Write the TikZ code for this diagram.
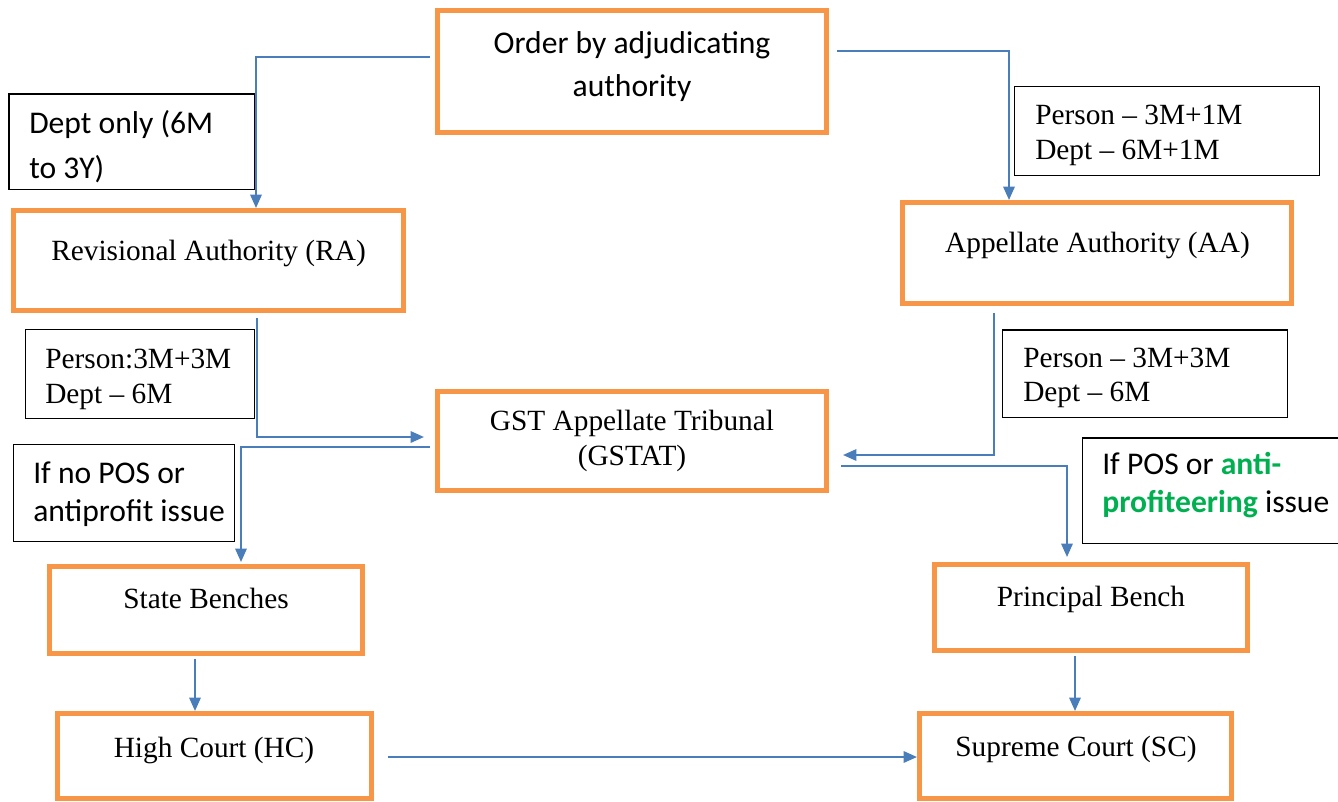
\documentclass[tikz,border=0pt]{standalone}
\usepackage{fontspec}
\setmainfont{Liberation Serif}
\newfontfamily\calibri{Carlito}
\usetikzlibrary{arrows.meta}
\definecolor{boxorange}{HTML}{F79646}
\definecolor{linkblue}{HTML}{4A7EBB}
\definecolor{antigreen}{HTML}{00B050}
\begin{document}
\begin{tikzpicture}[x=0.75pt,y=-0.75pt,
  stage/.style={draw=boxorange,line width=3.75pt,inner sep=0pt},
  note/.style={draw=black,line width=1.1pt,inner sep=0pt},
  serif/.style={inner sep=0pt,font=\fontsize{22}{26.25}\selectfont},
  sans/.style={inner sep=0pt,font=\calibri\fontsize{23.7}{33}\selectfont},
  link/.style={draw=linkblue,line width=1.5pt,-{Triangle[length=10pt,width=8.5pt]}}]
\useasboundingbox (0,0) rectangle (1338,801);

% stages of the appeal chain
\node[stage,minimum width=291.75pt,minimum height=91.5pt]  (ord) at (632,71.5) {};
\node[stage,minimum width=292.5pt,minimum height=75pt]     (ra)  at (208.5,260.5) {};
\node[stage,minimum width=291.75pt,minimum height=75.75pt] (aa)  at (1097,253) {};
\node[stage,minimum width=291.75pt,minimum height=74.25pt] (gst) at (632,441) {};
\node[stage,minimum width=234.75pt,minimum height=65.25pt] (sb)  at (206,610) {};
\node[stage,minimum width=234.75pt,minimum height=64.5pt]  (pb)  at (1091,607.5) {};
\node[stage,minimum width=235.5pt,minimum height=63.75pt]  (hc)  at (214.5,756) {};
\node[stage,minimum width=234pt,minimum height=63.75pt]    (sc)  at (1075.5,756) {};

% time-limit and condition notes
\node[note,minimum width=184.1pt,minimum height=71.6pt] (n1) at (131.5,141.5) {};
\node[note,minimum width=228.4pt,minimum height=66.4pt] (n2) at (1167,131) {};
\node[note,minimum width=171.4pt,minimum height=66.4pt] (n3) at (140,374) {};
\node[note,minimum width=213.4pt,minimum height=65.6pt] (n4) at (1145,373.5) {};
\node[note,minimum width=165.4pt,minimum height=72.4pt] (n5) at (124,493) {};
\node[note,minimum width=199.9pt,minimum height=79.1pt] (n6) at (1216,490.5) {};

% stage titles
\node[sans,anchor=base]  (ordA) at (632,53) {Order by adjudicating};
\node[sans,anchor=base]  (ordB) at (632,96) {authority};
\node[serif,anchor=base] (raT)  at (208.5,260) {Revisional Authority (RA)};
\node[serif,anchor=base] (aaT)  at (1097.5,252) {Appellate Authority (AA)};
\node[serif,anchor=base] (gstA) at (632,430.5) {GST Appellate Tribunal};
\node[serif,anchor=base] (gstB) at (632,465) {(GSTAT)};
\node[serif,anchor=base] (sbT)  at (206,608) {State Benches};
\node[serif,anchor=base] (pbT)  at (1091,606) {Principal Bench};
\node[serif,anchor=base] (hcT)  at (214,757) {High Court (HC)};
\node[serif,anchor=base] (scT)  at (1076,756) {Supreme Court (SC)};

% note texts
\node[sans,anchor=base west]  (n1a) at (29,133) {Dept only (6M};
\node[sans,anchor=base west]  (n1b) at (29,178) {to 3Y)};
\node[serif,anchor=base west] (n2a) at (1035,124) {Person -- 3M+1M};
\node[serif,anchor=base west] (n2b) at (1035,159) {Dept -- 6M+1M};
\node[serif,anchor=base west] (n3a) at (45,368) {Person:3M+3M};
\node[serif,anchor=base west] (n3b) at (45,403) {Dept -- 6M};
\node[serif,anchor=base west] (n4a) at (1023,367) {Person -- 3M+3M};
\node[serif,anchor=base west] (n4b) at (1023,401) {Dept -- 6M};
\node[sans,anchor=base west]  (n5a) at (33,483) {If no POS or};
\node[sans,anchor=base west]  (n5b) at (33,521) {antiprofit issue};
\node[sans,anchor=base west]  (n6a) at (1102,474) {If POS or \textcolor{antigreen}{\bfseries anti-}};
\node[sans,anchor=base west]  (n6b) at (1102,512) {\textcolor{antigreen}{\bfseries profiteering} issue};

% connectors
\draw[link] ([shift={(-5,-14.5)}]ord.west) -| ([shift={(47.5,0)}]ra.north);
\draw[link] ([shift={(8,-21)}]ord.east) -| ([shift={(-88,0)}]aa.north);
\draw[link] ([shift={(48.5,5)}]ra.south) |- ([shift={(-11,-4)}]gst.west);
\draw[link] ([shift={(-103,7)}]aa.south) |- ([shift={(14,14)}]gst.east);
\draw[link] ([shift={(-5,6)}]gst.west) -| ([shift={(35,-2)}]sb.north);
\draw[link] ([shift={(12,25)}]gst.east) -| ([shift={(-24,-5)}]pb.north);
\draw[link] ([shift={(-11,3)}]sb.south) -- ([shift={(-19.5,0)}]hc.north);
\draw[link] ([shift={(-16,3)}]pb.south) -- ([shift={(-0.5,0)}]sc.north);
\draw[link] ([shift={(14,1)}]hc.east) -- ([shift={(0,1)}]sc.west);
\end{tikzpicture}
\end{document}
